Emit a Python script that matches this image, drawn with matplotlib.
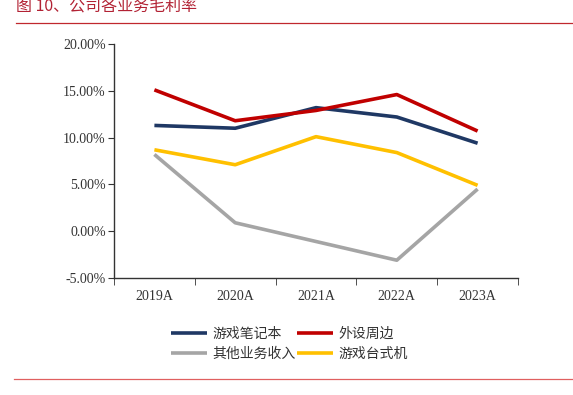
import matplotlib.pyplot as plt
import numpy as np

# data (persen)
years = ["2019A", "2020A", "2021A", "2022A", "2023A"]
laptop = [11.3, 11.0, 13.2, 12.2, 9.4]
periph = [15.1, 11.8, 12.9, 14.6, 10.7]
others = [8.2, 0.9, -1.1, -3.1, 4.5]
desktop = [8.7, 7.1, 10.1, 8.4, 4.9]

names = ["游戏笔记本", "外设周边", "其他业务收入", "游戏台式机"]
colors = ["#1F3864", "#C00000", "#A5A5A5", "#FFC000"]

plt.rcParams['font.family'] = ['Noto Sans CJK SC', 'DejaVu Sans']

fig = plt.figure(figsize=(5.73, 3.95), dpi=100)
ax = fig.add_axes([114/573, 1-278/395, (518-114)/573, (278-44)/395])

x = np.arange(len(years))
lines = []
for vals, nm, c in zip([laptop, periph, others, desktop], names, colors):
    ln, = ax.plot(x, vals, color=c, lw=2.6, label=nm, solid_capstyle='butt')
    lines.append(ln)

ax.set_xlim(-0.5, 4.5)
ax.set_ylim(-5, 20)
ax.set_yticks(np.arange(-5, 21, 5))
ax.set_yticklabels([f"{v:.2f}%" for v in np.arange(-5, 21, 5)],
                   family='Liberation Serif', fontsize=10, color='#333333')
ax.set_xticks(x)
ax.set_xticklabels(years, family='Liberation Serif', fontsize=10, color='#333333')
ax.set_xticks(np.arange(-0.5, 5, 1), minor=True)
ax.tick_params(axis='x', which='major', length=0, pad=9)
ax.tick_params(axis='x', which='minor', length=5, direction='out', color='#333333')
ax.tick_params(axis='y', length=4, direction='out', color='#333333', pad=2)

for s in ['top', 'right']:
    ax.spines[s].set_visible(False)
for s in ['left', 'bottom']:
    ax.spines[s].set_color('#333333')
    ax.spines[s].set_linewidth(1)

# urutan legenda: baris1 笔记本/外设, baris2 其他/台式机 (matplotlib isi per kolom)
order = [0, 2, 1, 3]
leg = fig.legend([lines[i] for i in order], [names[i] for i in order],
                 loc='upper left', bbox_to_anchor=(158/573, 1-314/395), ncol=2,
                 frameon=False, fontsize=10, handlelength=2.6, columnspacing=0.1,
                 handletextpad=0.4, labelspacing=0.45)
for t in leg.get_texts():
    t.set_color('#333333')

# judul dan garis merah
fig.text(16/573, 1-7/395, "图 10、公司各业务毛利率", color='#B22234', fontsize=11.5,
         va='center', ha='left')
fig.add_artist(plt.Line2D([16/573, 1], [1-23/395]*2, color='#C0282E', lw=0.9))
fig.add_artist(plt.Line2D([14/573, 1], [1-379/395]*2, color='#E06060', lw=0.9))

fig.savefig("out.png", dpi=100)
